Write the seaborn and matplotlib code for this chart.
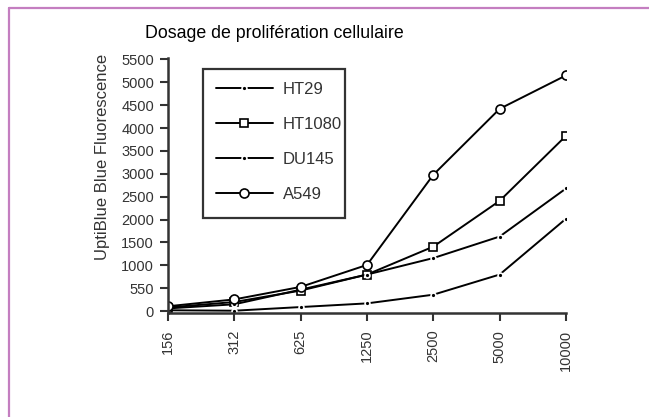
import matplotlib
matplotlib.use("Agg")
import matplotlib.pyplot as plt
from matplotlib.lines import Line2D
from matplotlib.patches import Rectangle
import seaborn as sns
import pandas as pd

# Cell seeding density (cells / well) and fluorescence readings per cell line
densities = ["156", "312", "625", "1250", "2500", "5000", "10000"]
ht29 = [20, 10, 90, 170, 360, 800, 2020]
ht1080 = [80, 200, 450, 800, 1410, 2410, 3830]
du145 = [60, 150, 470, 800, 1160, 1630, 2680]
a549 = [107, 257, 530, 1010, 2980, 4420, 5150]

y_ticks = [0, 500, 1000, 1500, 2000, 2500, 3000, 3500, 4000, 4500, 5000, 5500]
y_tick_labels = ["0", "550", "1000", "1500", "2000", "2500", "3000",
                 "3500", "4000", "4500", "5000", "5500"]

sns.set_theme(style="white")
plt.rcParams["font.family"] = ["Liberation Sans", "DejaVu Sans"]

W, H = 649, 417
fig = plt.figure(figsize=(W / 100, H / 100), dpi=100)
ax = fig.add_axes([168 / W, 1 - 313 / H, (566 - 168) / W, (313 - 58) / H])

pos = list(range(len(densities)))
series = [
    ("HT29", ht29, dict(marker="o", markersize=3.5, markerfacecolor="black",
                        markeredgecolor="white", markeredgewidth=1.2)),
    ("HT1080", ht1080, dict(marker="s", markersize=5.5, markerfacecolor="white",
                            markeredgecolor="black", markeredgewidth=1.2)),
    ("DU145", du145, dict(marker="o", markersize=3.5, markerfacecolor="black",
                          markeredgecolor="white", markeredgewidth=1.2)),
    ("A549", a549, dict(marker="o", markersize=6.5, markerfacecolor="white",
                        markeredgecolor="black", markeredgewidth=1.2)),
]

for name, vals, style in series:
    df = pd.DataFrame({"density": pos, "signal": vals})
    sns.lineplot(data=df, x="density", y="signal", ax=ax, color="black",
                 linewidth=1.4, label=name, **style)

ax.set_xlim(0, len(densities) - 1)
ax.set_ylim(-40, 5530)
ax.set_xticks(pos)
ax.set_xticklabels(densities, rotation=90, fontsize=10.5, color="#333333")
ax.set_yticks(y_ticks)
ax.set_yticklabels(y_tick_labels, fontsize=10.5, color="#333333")
ax.set_xlabel("")
ax.set_ylabel("UptiBlue Blue Fluorescence", fontsize=12, color="#333333")
ax.yaxis.set_label_coords((102 - 168) / 398, (313 - 157) / 255)
ax.yaxis.label.set_verticalalignment("center")

for side in ["top", "right"]:
    ax.spines[side].set_visible(False)
for side in ["left", "bottom"]:
    ax.spines[side].set_color("#333333")
    ax.spines[side].set_linewidth(1.8)
ax.tick_params(axis="y", direction="out", length=6, width=1.5,
               color="#333333", pad=4, left=True)
ax.tick_params(axis="x", direction="out", length=6, width=1.5,
               color="#333333", pad=6, bottom=True)

# Legend entries without their own frame; the box is drawn separately
leg = ax.legend(loc="upper left", bbox_to_anchor=(211 / W, 1 - 77 / H),
                bbox_transform=fig.transFigure, borderaxespad=0,
                fontsize=12, handlelength=3.4, handletextpad=0.6,
                labelspacing=1.2, borderpad=0.3, frameon=False)
for t in leg.get_texts():
    t.set_color("#333333")
fig.add_artist(Rectangle((203 / W, 1 - 218 / H), (345 - 203) / W, (218 - 69) / H,
                         transform=fig.transFigure, fill=False,
                         edgecolor="#333333", linewidth=1.6))

fig.text(274 / W, 1 - 33 / H, "Dosage de prolifération cellulaire",
         ha="center", va="center", fontsize=12.8, color="black")

# Page frame: top and left rules
frame_color = "#c47ec0"
fig.add_artist(Line2D([8.5 / W, 1], [1 - 7.5 / H, 1 - 7.5 / H],
                      transform=fig.transFigure, color=frame_color, linewidth=1.6))
fig.add_artist(Line2D([8.5 / W, 8.5 / W], [0, 1 - 7.5 / H],
                      transform=fig.transFigure, color=frame_color, linewidth=1.6))

fig.savefig("out.png", dpi=100)
